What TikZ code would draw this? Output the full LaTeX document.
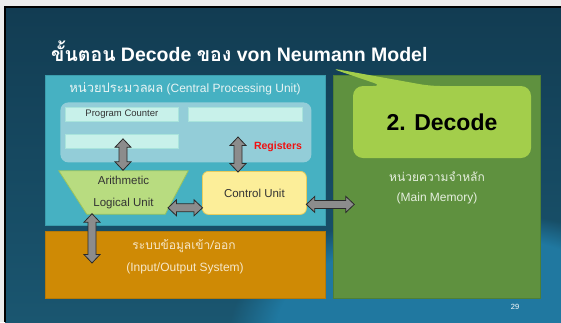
\documentclass[tikz,border=0pt]{standalone}
\usepackage{fontspec}
\setmainfont{Liberation Sans}
\newfontfamily\thaifont[Script=Thai]{Loma}
\usetikzlibrary{calc,fadings}

\definecolor{slideTop}{HTML}{123C52}
\definecolor{slideBottom}{HTML}{1A5670}
\definecolor{slideGlow}{HTML}{2078A0}
\definecolor{cpuFill}{HTML}{46B1C2}
\definecolor{cpuLine}{HTML}{3B9DAD}
\definecolor{regFill}{HTML}{93CDD8}
\definecolor{slotFill}{HTML}{C8F1EA}
\definecolor{slotLine}{HTML}{A9E4DC}
\definecolor{aluFill}{HTML}{B8DC80}
\definecolor{aluLine}{HTML}{9CC45C}
\definecolor{cuFill}{HTML}{FCEE99}
\definecolor{cuLine}{HTML}{E9CD5C}
\definecolor{ioFill}{HTML}{CF8A05}
\definecolor{ioLine}{HTML}{B67908}
\definecolor{memFill}{HTML}{5F913F}
\definecolor{memLine}{HTML}{4F7F36}
\definecolor{calloutFill}{HTML}{A3CE4B}
\definecolor{arrowFill}{HTML}{8C8C8C}
\definecolor{arrowLine}{HTML}{2A2A2A}
\definecolor{lightText}{HTML}{E8F4F4}
\definecolor{ioText}{HTML}{F6E7C9}
\definecolor{memText}{HTML}{E6EFDF}
\definecolor{regRed}{HTML}{F01010}

% block double arrow between two points
\newcommand\blockdbl[2]{%
  \path let \p1=(#1), \p2=(#2) in \pgfextra{%
    \pgfmathsetmacro\arrang{atan2(\y2-\y1,\x2-\x1)}%
    \pgfmathsetmacro\arrlen{veclen(\x2-\x1,\y2-\y1)}%
    \xdef\arrang{\arrang}\xdef\arrlen{\arrlen}};
  \draw[blockarrow, shift={(#1)}, rotate=\arrang]
    (0,0) -- (8.5,8) -- (8.5,4) -- (\arrlen-8.5,4) -- (\arrlen-8.5,8)
    -- (\arrlen,0) -- (\arrlen-8.5,-8) -- (\arrlen-8.5,-4) -- (8.5,-4)
    -- (8.5,-8) -- cycle;
}

\tikzset{
  box/.style={draw, line width=0.8pt, anchor=north west, inner sep=0pt},
  slot/.style={box, fill=slotFill, draw=slotLine, minimum height=14pt},
  blockarrow/.style={fill=arrowFill, draw=arrowLine, line width=0.8pt, line join=miter},
  unittext/.style={font=\fontsize{11.5}{22}\selectfont, text=black!80, align=center},
}

\begin{document}
\begin{tikzpicture}[x=1pt,y=-1pt]
  \useasboundingbox (0,0) rectangle (561,322);
  % page edge and slide background
  \fill[gray!15] (0,0) rectangle (561,322);
  \shade[top color=slideTop, bottom color=slideBottom] (5,7) rectangle (561,322);
  \begin{scope}
    \clip (5,7) rectangle (561,322);
    \fill[slideGlow, path fading=circle with fuzzy edge 20 percent] (460,330) ellipse (230 and 120);
  \end{scope}
  \draw[black, line width=1.6pt] (5,322) -- (5,7) -- (561,7);

  % title
  \node[anchor=base west, text=white, inner sep=0pt, font=\fontsize{19.5}{23}\selectfont\bfseries]
    (title) at (51,61) {{\thaifont ขั้นตอน} Decode {\thaifont ของ} von Neumann Model};

  % main memory with callout
  \node[box, fill=memFill, draw=memLine, minimum width=207pt, minimum height=223pt] (mem) at (333,75) {};
  \fill[calloutFill, rounded corners=10pt] (353,86) -- (383,86) -- (330,68) -- (430,86)
    -- (531,86) -- (531,158) -- (353,158) -- cycle;
  \node[font=\fontsize{23}{26}\selectfont\bfseries, text=black] (decode) at (442,122) {2. Decode};
  \node[text=memText, font=\fontsize{12}{14}\selectfont] (memth) at (437,177) {\thaifont หน่วยความจำหลัก};
  \node[text=memText, font=\fontsize{12}{14}\selectfont] (memen) at (437,198) {(Main Memory)};

  % processing unit
  \node[box, fill=cpuFill, draw=cpuLine, minimum width=280pt, minimum height=150pt] (cpu) at (45,75) {};
  \node[text=lightText, font=\fontsize{12}{14}\selectfont] (cpulabel) at (185,89)
    {{\thaifont\fontsize{13}{14}\selectfont หน่วยประมวลผล} (Central Processing Unit)};

  % registers
  \node[box, draw=none, fill=regFill, rounded corners=8pt, minimum width=251pt, minimum height=60pt] (regs) at (60,102) {};
  \node[slot, minimum width=113pt] (pc) at (65,107) {};
  \node[font=\fontsize{9.5}{11}\selectfont, text=black!80] at (pc.center) {Program Counter};
  \node[slot, minimum width=114pt] (slotb) at (188,107) {};
  \node[slot, minimum width=113pt] (slotc) at (65,134) {};
  \node[font=\fontsize{10.5}{12}\selectfont\bfseries, text=regRed] (reglabel) at (278,147) {Registers};

  % arithmetic logical unit (inverted trapezium) and control unit
  \path node[minimum width=129pt, minimum height=43pt, inner sep=0pt] (alu) at (123.5,192.5) {};
  \draw[fill=aluFill, draw=aluLine, line width=0.8pt]
    (alu.north west) -- (alu.north east) -- ($(alu.south east)+(-23,0)$)
    -- ($(alu.south west)+(28,0)$) -- cycle;
  \node[unittext] (alutext) at ($(alu.center)+(0,0.5)$) {Arithmetic\\Logical Unit};
  \node[box, fill=cuFill, draw=cuLine, rounded corners=6pt, minimum width=104pt, minimum height=43pt] (cu) at (202,171) {};
  \node[unittext] at (cu.center) {Control Unit};

  % input / output
  \node[box, fill=ioFill, draw=ioLine, minimum width=280pt, minimum height=67pt] (io) at (45,231) {};
  \node[text=ioText, font=\fontsize{12}{14}\selectfont] (ioth) at (184,246) {\thaifont ระบบข้อมูลเข้า/ออก};
  \node[text=ioText, font=\fontsize{12}{14}\selectfont] (ioen) at (185,268) {(Input/Output System)};

  % connector end points
  \coordinate (aluTop) at ($(alu.north)+(-0.5,-0.5)$);
  \coordinate (regA) at ($(slotc.south west)+(58,-10)$);
  \coordinate (cuTop) at ($(cu.north west)+(36,1)$);
  \coordinate (regB) at ($(cu.north west)+(36,-34)$);
  \coordinate (aluRight) at ($(cu.south west)+(-34,-7)$);
  \coordinate (cuLeft) at ($(cu.south west)+(0.5,-7)$);
  \coordinate (cuRight) at ($(cu.east)+(-0.5,11.5)$);
  \coordinate (memLeft) at ($(cu.east)+(47.5,11.5)$);
  \coordinate (aluBottom) at ($(alu.south)+(-31.5,-0.5)$);
  \coordinate (ioTip) at ($(io.north west)+(47,32)$);

  % block arrows
  \blockdbl{aluTop}{regA}
  \blockdbl{cuTop}{regB}
  \blockdbl{aluRight}{cuLeft}
  \blockdbl{cuRight}{memLeft}
  \blockdbl{aluBottom}{ioTip}

  % slide number
  \node[text=white!90, font=\fontsize{7.5}{9}\selectfont] (pageno) at (515,307) {29};
\end{tikzpicture}
\end{document}
